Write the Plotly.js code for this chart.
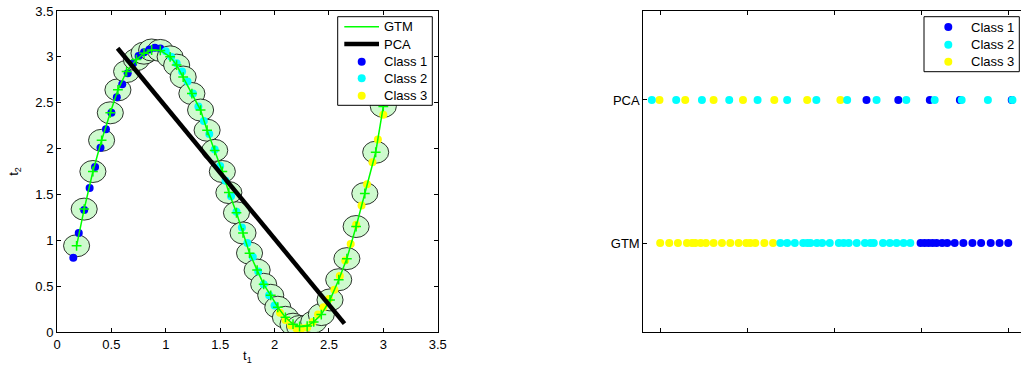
<!DOCTYPE html>
<html>
<head>
<meta charset="utf-8">
<script src="https://cdn.plot.ly/plotly-3.0.1.min.js"></script>
<style>
html, body { margin:0; padding:0; overflow:hidden; background:#fff; }
#chart { width:1026px; height:365px; }
</style>
</head>
<body>
<div id="chart"></div>
<script>
// ---- Left panel: data space ----
const t1Class1 = [0.15,0.20,0.25,0.30,0.35,0.40,0.45,0.50,0.55,0.60,0.65,0.70,0.75,0.80,0.85,0.90,0.95];
const t2Class1 = [0.81,1.08,1.33,1.57,1.80,2.01,2.21,2.39,2.56,2.70,2.82,2.93,3.01,3.05,3.08,3.10,3.09];
const t1Class2 = [1.00,1.05,1.10,1.15,1.20,1.25,1.30,1.35,1.40,1.45,1.50,1.55,1.60,1.65,1.70,1.75,1.80,1.85,1.90,1.95,2.00];
const t2Class2 = [3.06,3.00,2.93,2.84,2.73,2.60,2.46,2.30,2.16,1.99,1.81,1.65,1.48,1.31,1.14,0.97,0.82,0.66,0.52,0.40,0.29];
const t1Class3 = [2.05,2.10,2.15,2.20,2.25,2.30,2.35,2.40,2.45,2.50,2.55,2.60,2.65,2.70,2.75,2.80,2.85,2.90,2.95,3.00,3.05];
const t2Class3 = [0.21,0.13,0.07,0.04,0.04,0.05,0.11,0.19,0.27,0.36,0.46,0.61,0.78,0.96,1.17,1.38,1.61,1.85,2.10,2.37,2.63];

const gtmX = [0.18,0.25,0.33,0.41,0.49,0.56,0.64,0.73,0.80,0.87,0.95,1.04,1.10,1.16,1.24,1.32,1.38,1.45,1.52,1.58,1.65,1.71,1.77,1.84,1.90,1.965,2.03,2.10,2.17,2.23,2.30,2.36,2.43,2.51,2.59,2.665,2.75,2.83,2.93,3.00,3.07];
const gtmY = [0.94,1.34,1.75,2.09,2.39,2.64,2.84,2.97,3.04,3.075,3.07,3.00,2.91,2.78,2.60,2.42,2.20,1.98,1.75,1.52,1.30,1.08,0.86,0.675,0.52,0.40,0.27,0.16,0.085,0.06,0.065,0.11,0.19,0.35,0.57,0.80,1.15,1.51,1.96,2.46,2.95];
const gtmSigma = 0.12;

const pcaLineX = [0.557, 2.643];
const pcaLineY = [3.094, 0.092];

const leftTicks = [0,0.5,1,1.5,2,2.5,3,3.5];
const leftTickText = ['0','0.5','1','1.5','2','2.5','3','3.5'];

// ---- Right panel: latent space ----
const latentGTMClass1 = [0.494,0.517,0.540,0.563,0.586,0.618,0.647,0.690,0.740,0.792,0.842,0.897,0.948,0.998];
const latentGTMClass2 = [-0.312,-0.273,-0.229,-0.181,-0.157,-0.139,-0.102,-0.072,-0.028,0.024,0.052,0.081,0.127,0.174,0.206,0.225,0.278,0.317,0.356,0.396,0.435];
const latentGTMClass3 = [-1.003,-0.951,-0.901,-0.849,-0.820,-0.801,-0.770,-0.740,-0.696,-0.648,-0.600,-0.552,-0.508,-0.485,-0.456,-0.404,-0.354];
const latentPCAClass1 = [0.183,0.366,0.547,0.720,1.018];
const latentPCAClass2 = [-1.051,-0.911,-0.763,-0.606,-0.443,-0.273,-0.105,0.072,0.241,0.412,0.575,0.730,0.881,1.022];
const latentPCAClass3 = [-1.007,-0.859,-0.696,-0.527,-0.347,-0.158,0.033];
const rowLevels = {GTM:1, PCA:2};
const rightXTicks = [-1,-0.5,0,0.5,1];
const rightYTickText = ['GTM','PCA'];

const BLUE = 'rgb(0,0,255)', CYAN = 'rgb(0,255,255)', YELLOW = 'rgb(255,255,0)', GREEN = 'rgb(0,255,0)';
const FONT = 'Liberation Sans, Arial, Helvetica, sans-serif';

// pixel -> paper helpers (layout 1026x365, margins l57 r0 t11 b33)
const W = 1026, H = 365, ML = 57, MT = 11, MB = 33;
const PW = W - ML, PH = H - MT - MB;
const px2x = p => (p - ML) / PW;
const py2y = p => (H - MB - p) / PH;

const traces = [];
const dot = (x, y, c, xa, ya) => ({
  type:'scatter', mode:'markers', x:x, y:y, xaxis:xa, yaxis:ya,
  marker:{color:c, size:8, line:{width:0}}, showlegend:false, hoverinfo:'skip'
});
traces.push(dot(t1Class1, t2Class1, BLUE, 'x', 'y'));
traces.push(dot(t1Class2, t2Class2, CYAN, 'x', 'y'));
traces.push(dot(t1Class3, t2Class3, YELLOW, 'x', 'y'));
traces.push({type:'scatter', mode:'lines+markers', x:gtmX, y:gtmY, xaxis:'x', yaxis:'y',
  line:{color:GREEN, width:1.5},
  marker:{symbol:'cross-thin', size:7, color:GREEN, line:{color:GREEN, width:1.5}},
  showlegend:false, hoverinfo:'skip'});
traces.push({type:'scatter', mode:'lines', x:pcaLineX, y:pcaLineY, xaxis:'x', yaxis:'y',
  line:{color:'black', width:4.5}, showlegend:false, hoverinfo:'skip'});

const lvl = (arr, k) => arr.map(() => rowLevels[k]);
traces.push(dot(latentPCAClass1, lvl(latentPCAClass1,'PCA'), BLUE, 'x2', 'y2'));
traces.push(dot(latentGTMClass1, lvl(latentGTMClass1,'GTM'), BLUE, 'x2', 'y2'));
traces.push(dot(latentPCAClass3, lvl(latentPCAClass3,'PCA'), YELLOW, 'x2', 'y2'));
traces.push(dot(latentGTMClass3, lvl(latentGTMClass3,'GTM'), YELLOW, 'x2', 'y2'));
traces.push(dot(latentPCAClass2, lvl(latentPCAClass2,'PCA'), CYAN, 'x2', 'y2'));
traces.push(dot(latentGTMClass2, lvl(latentGTMClass2,'GTM'), CYAN, 'x2', 'y2'));

const shapes = [];
gtmX.forEach((cx, i) => {
  const cy = gtmY[i];
  shapes.push({type:'circle', xref:'x', yref:'y', layer:'below',
    x0:cx-gtmSigma, x1:cx+gtmSigma, y0:cy-gtmSigma, y1:cy+gtmSigma,
    fillcolor:'rgb(206,250,206)', line:{color:'black', width:0.8}});
});

const annotations = [];
function legendBox(x0, x1, y0, y1) {
  shapes.push({type:'rect', xref:'paper', yref:'paper', layer:'above',
    x0:px2x(x0), x1:px2x(x1), y0:py2y(y1), y1:py2y(y0),
    fillcolor:'white', line:{color:'black', width:1}});
}
function legendLine(x0, x1, y, color, width) {
  shapes.push({type:'line', xref:'paper', yref:'paper', layer:'above',
    x0:px2x(x0), x1:px2x(x1), y0:py2y(y), y1:py2y(y), line:{color:color, width:width}});
}
function legendDot(cx, cy, color) {
  shapes.push({type:'circle', xref:'paper', yref:'paper', layer:'above',
    x0:px2x(cx-4), x1:px2x(cx+4), y0:py2y(cy+4), y1:py2y(cy-4),
    fillcolor:color, line:{width:0}});
}
function legendText(x, y, txt) {
  annotations.push({xref:'paper', yref:'paper', x:px2x(x), y:py2y(y), xanchor:'left', yanchor:'middle',
    text:txt, showarrow:false, font:{family:FONT, size:13, color:'black'}});
}
// left legend
legendBox(337.7, 432.3, 16.7, 105.3);
legendLine(344.3, 379, 26.7, GREEN, 1.5);
legendLine(344.3, 379, 44, 'black', 4.5);
legendDot(361.7, 61.7, BLUE);
legendDot(361.7, 78.3, CYAN);
legendDot(361.7, 95.7, YELLOW);
legendText(382, 26.7, 'GTM');
legendText(382, 44, 'PCA');
legendText(382, 61.7, 'Class 1');
legendText(382, 78.3, 'Class 2');
legendText(382, 95.7, 'Class 3');
// right legend
legendBox(924, 1019.3, 16.7, 71.7);
legendDot(948.3, 27, BLUE);
legendDot(948.3, 44.7, CYAN);
legendDot(948.3, 61.7, YELLOW);
legendText(968.5, 27, 'Class 1');
legendText(968.5, 44.7, 'Class 2');
legendText(968.5, 61.7, 'Class 3');

const axBase = {showline:true, linecolor:'black', linewidth:1, mirror:'ticks', ticks:'inside',
  ticklen:4, tickcolor:'black', tickwidth:1, showgrid:false, zeroline:false,
  tickfont:{family:FONT, size:13, color:'black'}, automargin:false, fixedrange:true};

const layout = {
  width:W, height:H, margin:{l:ML, r:0, t:MT, b:MB, pad:0},
  paper_bgcolor:'white', plot_bgcolor:'white', showlegend:false,
  font:{family:FONT, size:13, color:'black'},
  xaxis:Object.assign({}, axBase, {domain:[0, px2x(437.7)], range:[0,3.5], tickvals:leftTicks, ticktext:leftTickText,
    anchor:'y', title:{text:'t<sub>1</sub>', font:{family:FONT, size:13}, standoff:0}}),
  yaxis:Object.assign({}, axBase, {domain:[0,1], range:[0,3.5], tickvals:leftTicks, ticktext:leftTickText,
    anchor:'x', title:{text:'t<sub>2</sub>', font:{family:FONT, size:13}, standoff:13}}),
  xaxis2:Object.assign({}, axBase, {domain:[px2x(643.3), 1], range:[-1.1,1.1], tickvals:rightXTicks,
    showticklabels:false, anchor:'y2'}),
  yaxis2:Object.assign({}, axBase, {domain:[0,1], range:[0.378,2.622], tickvals:[rowLevels.GTM, rowLevels.PCA],
    ticktext:rightYTickText, anchor:'x2', mirror:false}),
  shapes:shapes, annotations:annotations
};

Plotly.newPlot('chart', traces, layout, {staticPlot:true, displayModeBar:false});
</script>
</body>
</html>
